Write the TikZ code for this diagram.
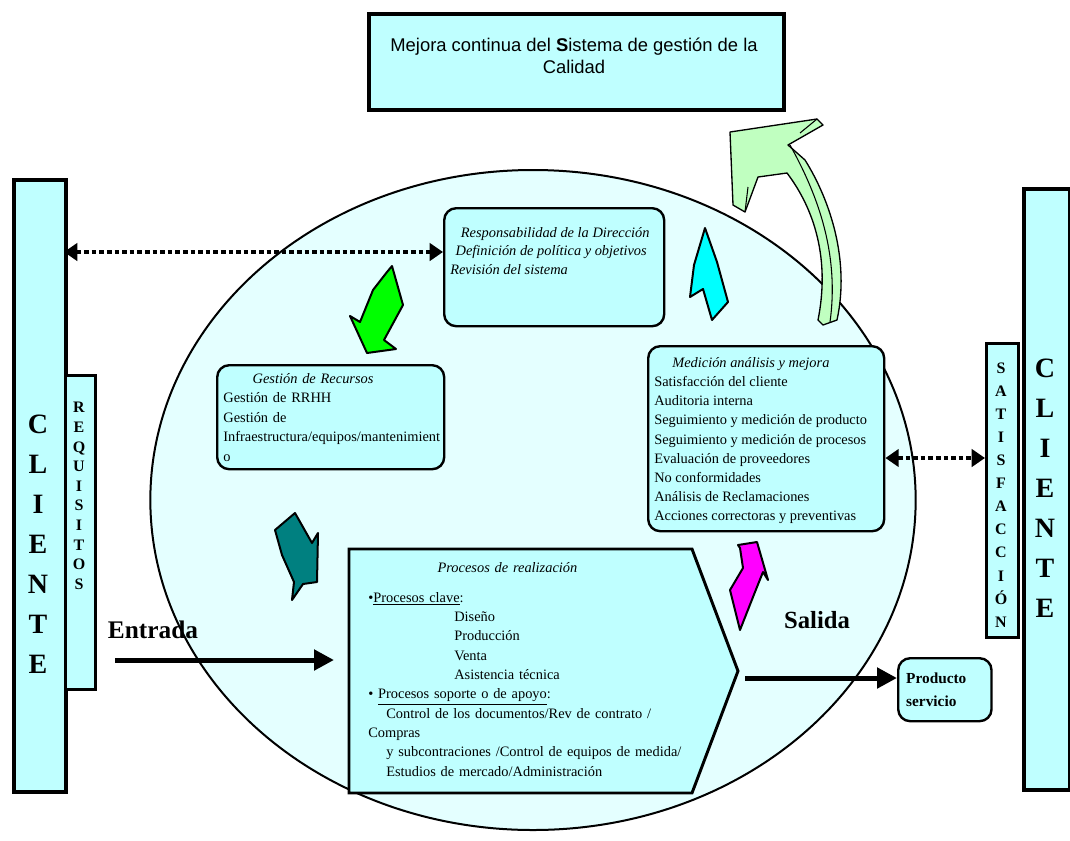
\documentclass[tikz,border=0pt]{standalone}
\usepackage{fontspec}
\setmainfont{Liberation Serif}
\newfontfamily\arialfont{Liberation Sans}
\usetikzlibrary{arrows.meta}
\definecolor{boxcyan}{RGB}{191,255,255}
\definecolor{pale}{RGB}{228,255,255}
\definecolor{lgreen}{RGB}{192,255,192}
\definecolor{tealarrow}{RGB}{0,128,128}
\definecolor{cyanarrow}{RGB}{0,255,255}
\definecolor{magentaarrow}{RGB}{255,0,255}
\definecolor{greenarrow}{RGB}{0,255,0}

\begin{document}
\begin{tikzpicture}[x=0.75pt,y=-0.75pt]
	\tikzstyle{cbox} = [draw,line width=1.8pt,fill=boxcyan,rounded corners=9pt,anchor=north west]
	\tikzstyle{sbox} = [draw,line width=3pt,fill=boxcyan,anchor=north west,inner sep=0pt]
	\tikzstyle{body} = [font=\fontsize{10.8}{14.4}\selectfont,align=left]
	\tikzstyle{letters} = [font=\bfseries\fontsize{21}{30}\selectfont,align=center]
	\tikzstyle{smallletters} = [font=\bfseries\fontsize{12}{14.7}\selectfont,align=center]
	\tikzstyle{flow} = [line width=3.75pt,-{Triangle[length=15pt,width=15pt]}]
	\tikzstyle{dots} = [line width=3.5pt,dash pattern=on 3.5pt off 2.2pt,{Triangle[length=10pt,width=13pt]}-{Triangle[length=10pt,width=13pt]}]
	\tikzstyle{blockarrow} = [draw,line width=1.5pt,line join=round]
	
	\fill[white] (0,0) rectangle (1070,840);
	\useasboundingbox (0,0) rectangle (1070,840);
	
	\draw[line width=1.5pt,fill=pale] (533,500) ellipse [x radius=287pt,y radius=247.5pt];
	
	\node[sbox,minimum width=311.25pt,minimum height=72pt] (mejora) at (367,12) {};
	\node[align=center,font=\arialfont\fontsize{13.8}{16.5}\selectfont] (mejoratxt) at (574,56) {Mejora continua del \textbf{S}istema de gesti\'on de la\\Calidad};
	
	\node[sbox,minimum width=39pt,minimum height=459pt] (cliL) at (12,178) {};
	\node[letters] (cliLtxt) at (38,544) {C\\L\\I\\E\\N\\T\\E};
	\node[sbox,line width=2.5pt,minimum width=22.5pt,minimum height=235.5pt] (req) at (64,374) {};
	\node[smallletters] (reqtxt) at (79,496) {R\\E\\Q\\U\\I\\S\\I\\T\\O\\S};
	
	\node[sbox,minimum width=34.5pt,minimum height=450.75pt] (cliR) at (1022,187) {};
	\node[letters] (cliRtxt) at (1045,488) {C\\L\\I\\E\\N\\T\\E};
	\node[sbox,line width=2.5pt,minimum width=24pt,minimum height=220.5pt] (sat) at (985,342) {};
	\node[smallletters,font=\bfseries\fontsize{12}{17.3}\selectfont] (sattxt) at (1001,495) {S\\A\\T\\I\\S\\F\\A\\C\\C\\I\\\'O\\N};
	
	\node[cbox,minimum width=165pt,minimum height=88.5pt] (resp) at (443,207) {};
	\node[body,anchor=north west,inner sep=0pt,font=\itshape\fontsize{10.8}{14}\selectfont] (resptxt) at (450,227) {\hspace*{8pt}Responsabilidad de la Direcci\'on\\\hspace*{4pt}Definici\'on de pol\'itica y objetivos\\Revisi\'on del sistema};
	
	\node[cbox,body,font=\fontsize{10.8}{14.6}\selectfont,minimum width=170.25pt,minimum height=78pt,text width=161pt,inner xsep=4.5pt] (rec) at (216,364) {\hspace*{22pt}\textit{Gesti\'on de Recursos}\\Gesti\'on de RRHH\\Gesti\'on de\\Infraestructura/equipos/mantenimient\\o};
	
	\node[cbox,minimum width=177pt,minimum height=138.75pt] (med) at (647,345) {};
	\node[body,anchor=north west,inner sep=0pt] (medtxt) at (654,357) {\hspace*{13.5pt}\textit{Medici\'on an\'alisis y mejora}\\Satisfacci\'on del cliente\\Auditoria interna\\Seguimiento y medici\'on de producto\\Seguimiento y medici\'on de procesos\\Evaluaci\'on de proveedores\\No conformidades\\An\'alisis de Reclamaciones\\Acciones correctoras y preventivas};
	
	\draw[line width=2.2pt,fill=boxcyan] (349,549) -- (692,549) -- (738,671) -- (692,793) -- (349,793) -- cycle;
	\node[body,font=\fontsize{10.8}{14.5}\selectfont,anchor=north west,text width=250pt,inner sep=0pt] (proc) at (368,562) {\hspace*{52pt}\textit{Procesos de realizaci\'on}\\[8pt]
		\textbullet\underline{Procesos clave}:\\
		\hspace*{64.5pt}Dise\~no\\
		\hspace*{64.5pt}Producci\'on\\
		\hspace*{64.5pt}Venta\\
		\hspace*{64.5pt}Asistencia t\'ecnica\\
		\textbullet{} \underline{Procesos soporte o de apoyo}:\\
		\hspace*{13.5pt}Control de los documentos/Rev de contrato /\\
		Compras\\
		\hspace*{13.5pt}y subcontraciones /Control de equipos de medida/\\
		\hspace*{13.5pt}Estudios de mercado/Administraci\'on};
	
	\node[cbox,body,font=\bfseries\fontsize{11.5}{17}\selectfont,minimum width=69.75pt,minimum height=47.25pt,text width=58pt,inner xsep=6pt] (prod) at (897,657) {Producto\\servicio};
	
	\node[font=\bfseries\fontsize{19}{22}\selectfont] (entrada) at (153,630) {Entrada};
	\node[font=\bfseries\fontsize{18.5}{22}\selectfont] (salida) at (817,620) {Salida};
	
	\coordinate (ein) at (115,660);
	\coordinate (pin) at (334,660);
	\coordinate (ptip) at (745,678);
	\coordinate (dl) at (64,252);
	\coordinate (dr) at (985,458);
	
	\path[flow] (ein) edge (pin);
	\path[flow] (ptip) edge (prod.west |- ptip);
	\path[dots] (dl) edge (resp.west |- dl);
	\path[dots] (med.east |- dr) edge (dr);
	
	\draw[blockarrow,fill=greenarrow] (392,266) -- (403,305) -- (384,340) -- (396,349) -- (367,353) -- (350,316) -- (360,322) -- (373,290) -- (387,272) -- cycle;
	\draw[blockarrow,fill=cyanarrow] (705,228) -- (717,262) -- (728,302) -- (712,320) -- (703,289) -- (690,297) -- (694,265) -- cycle;
	\draw[blockarrow,fill=tealarrow] (275,530) -- (295,513) -- (312,543) -- (318,533) -- (317,582) -- (303,584) -- (292,600) -- (294,582) -- (282,555) -- cycle;
	\draw[blockarrow,fill=magentaarrow] (738,545) -- (757,542) -- (768,580) -- (763,572) -- (753,597) -- (740,630) -- (730,590) -- (743,568) -- (740,548) -- cycle;
	
	\draw[line width=1pt,line join=round,fill=lgreen] (730,132) -- (817,119) -- (823,125) -- (788,145) -- (805,160) .. controls (830,200) and (850,260) .. (837,320) -- (823,325) -- (818,320) .. controls (830,260) and (815,210) .. (787,173) -- (758,177) -- (745,212) -- (733,205) -- cycle;
	\draw[line width=0.8pt] (790,145) .. controls (815,190) and (840,250) .. (830,322);
	\draw[line width=0.8pt] (800,133) -- (817,119);
	\draw[line width=0.8pt] (748,187) -- (745,212);
\end{tikzpicture}
\end{document}
